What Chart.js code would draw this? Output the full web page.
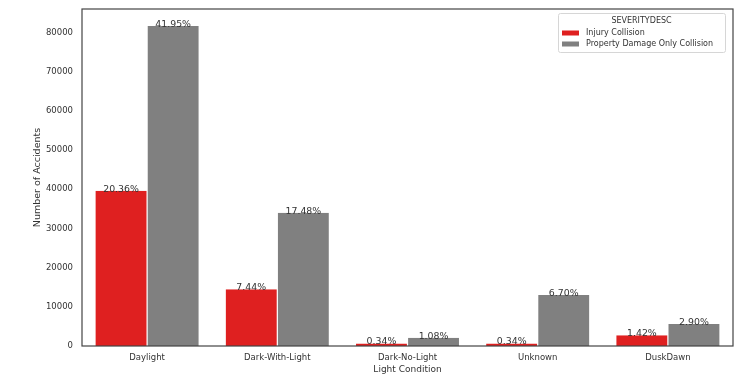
<!DOCTYPE html>
<html>
<head>
<meta charset="utf-8">
<script src="https://cdn.jsdelivr.net/npm/chart.js@4.4.1/dist/chart.umd.min.js"></script>
<style>
html,body{margin:0;padding:0;background:#fff;}
canvas{display:block;}
</style>
</head>
<body>
<canvas id="c" width="750" height="385"></canvas>
<script>
const categories = ['Daylight', 'Dark-With-Light', 'Dark-No-Light', 'Unknown', 'DuskDawn'];
const injury = [39635, 14484, 662, 662, 2764];
const property = [81665, 34029, 2102, 13043, 5646];
const injuryPct = ['20.36%', '7.44%', '0.34%', '0.34%', '1.42%'];
const propertyPct = ['41.95%', '17.48%', '1.08%', '6.70%', '2.90%'];
const seriesNames = ['Injury Collision', 'Property Damage Only Collision'];
const legendTitle = 'SEVERITYDESC';
const yTicks = [0, 10000, 20000, 30000, 40000, 50000, 60000, 70000, 80000];

const FONT = "'DejaVu Sans', sans-serif";
const TXT = '#333333';
const RED = '#df2020';
const GRAY = '#808080';

const framePlugin = {
  id: 'frame',
  afterDraw(chart) {
    const {ctx, chartArea: a} = chart;
    ctx.save();
    ctx.strokeStyle = '#444';
    ctx.lineWidth = 1.2;
    ctx.strokeRect(a.left, a.top, a.right - a.left, a.bottom - a.top);
    ctx.restore();
  }
};

const pctPlugin = {
  id: 'pct',
  afterDatasetsDraw(chart) {
    const {ctx} = chart;
    const labelsets = [injuryPct, propertyPct];
    ctx.save();
    ctx.font = '9.4px ' + FONT;
    ctx.fillStyle = TXT;
    ctx.textAlign = 'center';
    ctx.textBaseline = 'alphabetic';
    chart.data.datasets.forEach((ds, di) => {
      chart.getDatasetMeta(di).data.forEach((bar, i) => {
        ctx.fillText(labelsets[di][i], bar.x, bar.y + 1);
      });
    });
    ctx.restore();
  }
};

const legendPlugin = {
  id: 'customLegend',
  afterDraw(chart) {
    const {ctx} = chart;
    const x0 = 558, y0 = 13, w = 167, h = 39;
    ctx.save();
    ctx.fillStyle = 'rgba(255,255,255,0.85)';
    ctx.strokeStyle = '#d6d6d6';
    ctx.lineWidth = 1;
    ctx.beginPath();
    if (ctx.roundRect) ctx.roundRect(x0 + 0.5, y0 + 0.5, w, h, 2); else ctx.rect(x0 + 0.5, y0 + 0.5, w, h);
    ctx.fill();
    ctx.stroke();
    ctx.font = '8px ' + FONT;
    ctx.fillStyle = TXT;
    ctx.textAlign = 'center';
    ctx.textBaseline = 'middle';
    ctx.fillText(legendTitle, x0 + w / 2, 21);
    ctx.textAlign = 'left';
    const ys = [33, 44];
    chart.data.datasets.forEach((ds, i) => {
      ctx.fillStyle = ds.backgroundColor;
      ctx.fillRect(562, ys[i] - 2.5, 17, 5);
      ctx.fillStyle = TXT;
      ctx.fillText(ds.label, 586, ys[i]);
    });
    ctx.restore();
  }
};

new Chart(document.getElementById('c'), {
  type: 'bar',
  data: {
    labels: categories,
    datasets: [
      {label: seriesNames[0], data: injury, backgroundColor: RED, borderColor: '#ffffff',
       borderWidth: {left: 0.6, right: 0.6, top: 0, bottom: 0}, borderSkipped: false,
       categoryPercentage: 0.8, barPercentage: 1.0},
      {label: seriesNames[1], data: property, backgroundColor: GRAY, borderColor: '#ffffff',
       borderWidth: {left: 0.6, right: 0.6, top: 0, bottom: 0}, borderSkipped: false,
       categoryPercentage: 0.8, barPercentage: 1.0}
    ]
  },
  options: {
    responsive: false,
    animation: false,
    devicePixelRatio: 1,
    layout: {padding: {top: 9, right: 17, left: 0, bottom: 0}},
    plugins: {legend: {display: false}, tooltip: {enabled: false}},
    scales: {
      x: {
        grid: {display: false, drawTicks: false},
        border: {display: false},
        ticks: {padding: 7, color: TXT, font: {family: FONT, size: 8.5}, maxRotation: 0, autoSkip: false},
        title: {display: true, text: 'Light Condition', color: TXT, font: {family: FONT, size: 9}, padding: {top: 0, bottom: 10}},
        afterFit(s) { s.height = 39; s.paddingLeft = 0; s.paddingRight = 0; }
      },
      y: {
        min: 0, max: 86000,
        grid: {display: false, drawTicks: false},
        border: {display: false},
        ticks: {padding: 9, color: TXT, font: {family: FONT, size: 8.5}, stepSize: 10000,
                callback: v => String(v)},
        afterBuildTicks(s) { s.ticks = yTicks.map(v => ({value: v})); },
        title: {display: true, text: 'Number of Accidents', color: TXT, font: {family: FONT, size: 9.5}, padding: {top: 32, bottom: 0}},
        afterFit(s) { s.width = 82; s.paddingTop = 0; s.paddingBottom = 0; }
      }
    }
  },
  plugins: [framePlugin, pctPlugin, legendPlugin]
});
</script>
</body>
</html>
